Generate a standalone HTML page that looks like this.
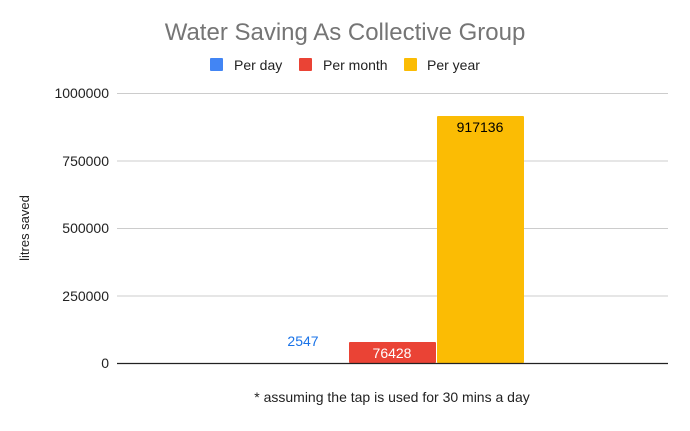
<!DOCTYPE html>
<html><head><style>body{margin:0;background:#fff}</style></head><body>
<svg width="690" height="426" xmlns="http://www.w3.org/2000/svg" font-family="Liberation Sans, Arial, sans-serif">
<rect width="690" height="426" fill="#fff"/>
<text x="345" y="40" text-anchor="middle" font-size="24" fill="#757575">Water Saving As Collective Group</text>
<rect x="210" y="58" width="13" height="13" rx="1" fill="#4285f4"/>
<text x="234" y="70" font-size="14" fill="#222">Per day</text>
<rect x="299" y="58" width="13" height="13" rx="1" fill="#ea4335"/>
<text x="323" y="70" font-size="14" fill="#222">Per month</text>
<rect x="404" y="58" width="13" height="13" rx="1" fill="#fbbc04"/>
<text x="427" y="70" font-size="14" fill="#222">Per year</text>
<g stroke="#ccc" stroke-width="1">
<line x1="117" x2="668" y1="93.5" y2="93.5"/>
<line x1="117" x2="668" y1="161" y2="161"/>
<line x1="117" x2="668" y1="228.5" y2="228.5"/>
<line x1="117" x2="668" y1="296" y2="296"/>
</g>
<g font-size="14" fill="#222" text-anchor="end">
<text x="109" y="98">1000000</text>
<text x="109" y="166">750000</text>
<text x="109" y="233">500000</text>
<text x="109" y="301">250000</text>
<text x="109" y="368">0</text>
</g>
<text transform="translate(29,228) rotate(-90)" text-anchor="middle" font-size="13" fill="#222">litres saved</text>
<rect x="349" y="342" width="87" height="21" rx="1" fill="#ea4335"/>
<rect x="437" y="116" width="87" height="247" rx="1" fill="#fbbc04"/>
<line x1="117" x2="668" y1="363.5" y2="363.5" stroke="#222" stroke-width="1.2"/>
<text x="303" y="346" text-anchor="middle" font-size="14" fill="#1a73e8">2547</text>
<text x="392" y="358" text-anchor="middle" font-size="14" fill="#fff">76428</text>
<text x="480" y="132" text-anchor="middle" font-size="14" fill="#000">917136</text>
<text x="392" y="402" text-anchor="middle" font-size="14" fill="#222">* assuming the tap is used for 30 mins a day</text>
</svg>
</body></html>
